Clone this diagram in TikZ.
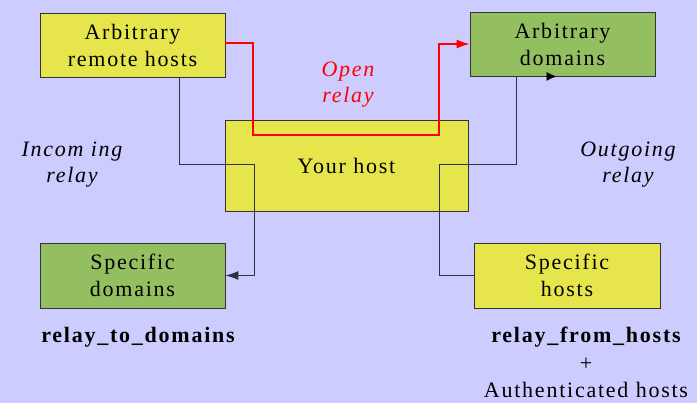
\documentclass[tikz,border=0pt]{standalone}
\usepackage{fontspec}
\setmainfont{Liberation Serif}[LetterSpace=8]
\usetikzlibrary{arrows.meta}

\definecolor{bgblue}{HTML}{CCCCFF}
\definecolor{hostyellow}{HTML}{E6E64C}
\definecolor{domgreen}{HTML}{94BF60}
\definecolor{wirecol}{HTML}{303040}
\definecolor{relayred}{HTML}{FF0000}

\tikzset{
  box/.style={draw=black!80, line width=0.9pt, align=center, inner sep=0pt,
    minimum width=185pt, minimum height=64pt, font=\fontsize{22}{27}\selectfont},
  yellowbox/.style={box, fill=hostyellow},
  greenbox/.style={box, fill=domgreen},
  wire/.style={draw=wirecol, line width=1pt},
  tip/.style={-{Latex[length=13pt,width=9pt]}},
  note/.style={align=center, font=\fontsize{22}{26}\selectfont\itshape},
  optname/.style={align=center, font=\fontsize{22}{26}\selectfont\bfseries}
}

\begin{document}
\begin{tikzpicture}[x=1pt, y=-1pt]
\fill[bgblue] (0,0) rectangle (697,403);
\useasboundingbox (0,0) rectangle (697,403);

% the hosts and domains
\node[yellowbox] (arh) at (132.5,45) {Arbitrary\\remote hosts};
\node[greenbox] (ad) at (562.5,44) {Arbitrary\\domains};
\node[yellowbox, minimum width=243pt, minimum height=91pt] (yh) at (346.5,165.5) {Your host};
\node[greenbox, minimum height=65pt] (sd) at (132.5,275.5) {Specific\\domains};
\node[yellowbox, minimum width=186pt, minimum height=65pt] (sh) at (567,275.5) {Specific\\hosts};

% open relay
\draw[relayred, line width=1.1pt, tip] ([yshift=2]arh.east) -| (253,135) -| (439,90) |- (ad.west);
\node[note, text=relayred] (open) at (348,85) {Open\\relay};

% incoming relay
\draw[wire, tip] ([xshift=46.5]arh.south) |- (254,165) |- (sd.east);
\node[note] (incoming) at (72,165) {Incom ing\\relay};

% outgoing relay
\draw[wire] (sh.west) -| (439,165) -| ([xshift=-46.5]ad.south);
\draw[black, line width=0.6pt, -{Latex[length=10pt,width=9pt]}] ([xshift=-17]ad.south) -- ([xshift=-6]ad.south);
\node[note] (outgoing) at (628,165) {Outgoing\\relay};

% option names
\node[optname] (todom) at (138,337) {relay\_to\_domains};
\node[optname] (fromhosts) at (586,337) {relay\_from\_hosts};
\node[note, font=\fontsize{22}{26}\selectfont] (plus) at (586,364) {+};
\node[note, font=\fontsize{22}{26}\selectfont] (auth) at (586,390) {Authenticated hosts};
\end{tikzpicture}
\end{document}
